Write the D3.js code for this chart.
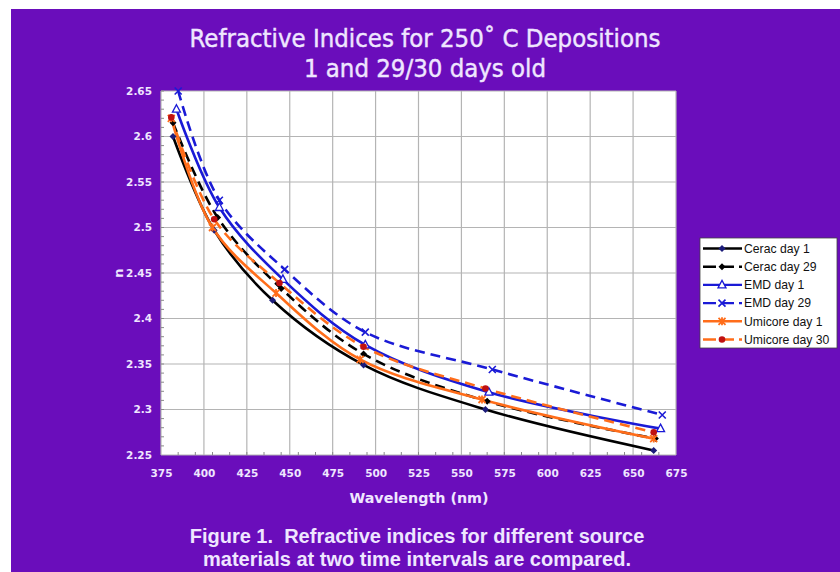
<!DOCTYPE html>
<html>
<head>
<meta charset="utf-8">
<script src="https://cdn.jsdelivr.net/npm/d3@7/dist/d3.min.js"></script>
<style>
  html, body { margin: 0; padding: 0; background: #ffffff; }
  svg { display: block; }
  text { white-space: pre; }
</style>
</head>
<body>
<svg id="chart" width="840" height="572"></svg>
<script>
// Refractive index n versus wavelength (nm) for each source material and age
const seriesNames = ["Cerac day 1", "Cerac day 29", "EMD day 1", "EMD day 29", "Umicore day 1", "Umicore day 30"];

const ceracDay1Wl  = [382, 406, 440, 493, 564, 662];
const ceracDay1N   = [2.600, 2.497, 2.420, 2.349, 2.300, 2.255];
const ceracDay29Wl = [382, 408, 445, 493, 565, 663];
const ceracDay29N  = [2.615, 2.511, 2.433, 2.361, 2.309, 2.268];
const emdDay1Wl    = [384, 409, 446, 494, 566, 666];
const emdDay1N     = [2.630, 2.522, 2.443, 2.371, 2.319, 2.279];
const emdDay29Wl   = [385, 409, 447, 494, 568, 667];
const emdDay29N    = [2.650, 2.530, 2.454, 2.385, 2.344, 2.294];
const umiDay1Wl    = [381, 405, 442, 491, 562, 662];
const umiDay1N     = [2.620, 2.500, 2.428, 2.355, 2.311, 2.268];
const umiDay30Wl   = [381, 406, 444, 493, 564, 662];
const umiDay30N    = [2.621, 2.509, 2.439, 2.369, 2.323, 2.275];

const xTicks = [375, 400, 425, 450, 475, 500, 525, 550, 575, 600, 625, 650, 675];
const yTicks = [2.25, 2.3, 2.35, 2.4, 2.45, 2.5, 2.55, 2.6, 2.65];

const titleLines = ["Refractive Indices for 250\u02DA C Depositions", "1 and 29/30 days old"];
const captionLines = ["Figure 1.  Refractive indices for different source", "materials at two time intervals are compared."];

const styles = [
  { color: "#000000", dash: null,   marker: "diamond", mfill: "#1c1c7a" },
  { color: "#000000", dash: "10,6", marker: "diamond", mfill: "#000000" },
  { color: "#1a1ad6", dash: null,   marker: "triangle", mfill: "#ffffff" },
  { color: "#1a1ad6", dash: "10,6", marker: "cross",   mfill: "#1a1ad6" },
  { color: "#ff6d1a", dash: null,   marker: "star",    mfill: "#ff6d1a" },
  { color: "#ff6d1a", dash: "10,6", marker: "circle",  mfill: "#c01010" }
];

const allWl = [ceracDay1Wl, ceracDay29Wl, emdDay1Wl, emdDay29Wl, umiDay1Wl, umiDay30Wl];
const allN  = [ceracDay1N, ceracDay29N, emdDay1N, emdDay29N, umiDay1N, umiDay30N];
const series = seriesNames.map((name, i) => ({
  name, style: styles[i],
  points: allWl[i].map((w, j) => ({ w, n: allN[i][j] }))
}));

const svg = d3.select("#chart");
const purple = "#6a0dbb";
const textColor = "#efe6ff";

svg.append("rect").attr("x", 11).attr("y", 9).attr("width", 829).attr("height", 563).attr("fill", purple);

const plot = { left: 161, top: 91, right: 676, bottom: 455 };
const x = d3.scaleLinear().domain([375, 675]).range([plot.left, plot.right]);
const y = d3.scaleLinear().domain([2.25, 2.65]).range([plot.bottom, plot.top]);

// Title
svg.append("g").selectAll("text").data(titleLines).join("text")
  .attr("x", 425).attr("y", (d, i) => 47 + i * 30)
  .attr("text-anchor", "middle")
  .attr("font-family", "'DejaVu Sans Condensed', 'DejaVu Sans', sans-serif")
  .attr("font-size", 25.5).attr("fill", textColor)
  .attr("stroke", textColor).attr("stroke-width", 0.4)
  .text(d => d);

// Plot area
svg.append("rect").attr("x", plot.left).attr("y", plot.top)
  .attr("width", plot.right - plot.left).attr("height", plot.bottom - plot.top)
  .attr("fill", "#ffffff");

// Gridlines
const grid = svg.append("g").attr("stroke", "#b4b4b4").attr("stroke-width", 1.2);
grid.selectAll("line.v").data(xTicks).join("line").attr("class", "v")
  .attr("x1", d => x(d)).attr("x2", d => x(d)).attr("y1", plot.top).attr("y2", plot.bottom);
grid.selectAll("line.h").data(yTicks).join("line").attr("class", "h")
  .attr("x1", plot.left).attr("x2", plot.right).attr("y1", d => y(d)).attr("y2", d => y(d));

// Minor ticks along the bottom and left axes
const minorX = d3.range(385, 675, 10);
const minorY = d3.range(2.26, 2.65, 0.01);
const minor = svg.append("g").attr("stroke", "#8a8a8a").attr("stroke-width", 1);
minor.selectAll("line.mx").data(minorX).join("line").attr("class", "mx")
  .attr("x1", d => x(d)).attr("x2", d => x(d)).attr("y1", plot.bottom).attr("y2", plot.bottom - 3);
minor.selectAll("line.my").data(minorY).join("line").attr("class", "my")
  .attr("x1", plot.left).attr("x2", plot.left + 3).attr("y1", d => y(d)).attr("y2", d => y(d));

// Axes labels
const xAxis = d3.axisBottom(x).tickValues(xTicks).tickSize(0).tickPadding(15).tickFormat(d3.format("d"));
const yAxis = d3.axisLeft(y).tickValues(yTicks).tickSize(0).tickPadding(9).tickFormat(d => d3.format(".2f")(d).replace(/0$/, "").replace(/\.$/, ""));
const gx = svg.append("g").attr("transform", `translate(0,${plot.bottom})`).call(xAxis);
const gy = svg.append("g").attr("transform", `translate(${plot.left},0)`).call(yAxis);
[gx, gy].forEach(g => {
  g.select(".domain").remove();
  g.selectAll("text").attr("fill", textColor)
    .attr("font-family", "'DejaVu Sans', sans-serif")
    .attr("font-weight", "bold").attr("font-size", 10.5);
});

svg.append("text").attr("x", 419).attr("y", 503).attr("text-anchor", "middle")
  .attr("font-family", "'DejaVu Sans', sans-serif").attr("font-weight", "bold")
  .attr("font-size", 14.3).attr("fill", textColor).text("Wavelength (nm)");
svg.append("text").attr("transform", "translate(123,273) rotate(-90)").attr("text-anchor", "middle")
  .attr("font-family", "'DejaVu Sans', sans-serif").attr("font-weight", "bold")
  .attr("font-size", 13).attr("fill", textColor).text("n");

// Series lines (smoothed)
const line = d3.line().x(d => x(d.w)).y(d => y(d.n)).curve(d3.curveCatmullRom.alpha(0.5));
const lines = svg.append("g");
series.forEach(s => {
  lines.append("path").datum(s.points)
    .attr("fill", "none").attr("stroke", s.style.color).attr("stroke-width", 2.6)
    .attr("stroke-dasharray", s.style.dash)
    .attr("d", line);
});

function drawMarker(g, type, cx, cy, fill, stroke) {
  if (type === "diamond") {
    g.append("path").attr("d", `M${cx},${cy-3.5}L${cx+3.5},${cy}L${cx},${cy+3.5}L${cx-3.5},${cy}Z`).attr("fill", fill);
  } else if (type === "triangle") {
    g.append("path").attr("d", `M${cx},${cy-4.5}L${cx+4},${cy+3}L${cx-4},${cy+3}Z`)
      .attr("fill", fill).attr("stroke", stroke).attr("stroke-width", 1.3);
  } else if (type === "cross") {
    g.append("path").attr("d", `M${cx-3.5},${cy-3.5}L${cx+3.5},${cy+3.5}M${cx-3.5},${cy+3.5}L${cx+3.5},${cy-3.5}`)
      .attr("stroke", stroke).attr("stroke-width", 1.6);
  } else if (type === "star") {
    g.append("path").attr("d", `M${cx-3.5},${cy-3.5}L${cx+3.5},${cy+3.5}M${cx-3.5},${cy+3.5}L${cx+3.5},${cy-3.5}M${cx},${cy-4}L${cx},${cy+4}`)
      .attr("stroke", stroke).attr("stroke-width", 1.8);
  } else if (type === "circle") {
    g.append("circle").attr("cx", cx).attr("cy", cy).attr("r", 3.3).attr("fill", fill);
  }
}

const markers = svg.append("g");
series.forEach(s => {
  s.points.forEach(p => drawMarker(markers, s.style.marker, x(p.w), y(p.n), s.style.mfill, s.style.color));
});

// Legend
const lg = svg.append("g");
lg.append("rect").attr("x", 700).attr("y", 238).attr("width", 137).attr("height", 110)
  .attr("fill", "#ffffff").attr("stroke", "#444444").attr("stroke-width", 0.8);
series.forEach((s, i) => {
  const ly = 248.5 + i * 18.2;
  lg.append("line").attr("x1", 703).attr("x2", 742).attr("y1", ly).attr("y2", ly)
    .attr("stroke", s.style.color).attr("stroke-width", 2.4).attr("stroke-dasharray", s.style.dash ? "13,5" : null);
  drawMarker(lg, s.style.marker, 722, ly, s.style.mfill, s.style.color);
  lg.append("text").attr("x", 744).attr("y", ly + 4.3)
    .attr("font-family", "'Liberation Sans', Arial, sans-serif").attr("font-size", 12.2)
    .attr("fill", "#111111").text(s.name);
});

// Caption
svg.append("g").selectAll("text").data(captionLines).join("text")
  .attr("x", 417).attr("y", (d, i) => 543 + i * 23)
  .attr("text-anchor", "middle")
  .attr("font-family", "'Liberation Sans', Arial, sans-serif").attr("font-weight", "bold")
  .attr("font-size", 20).attr("fill", textColor)
  .text(d => d);
</script>
</body>
</html>
